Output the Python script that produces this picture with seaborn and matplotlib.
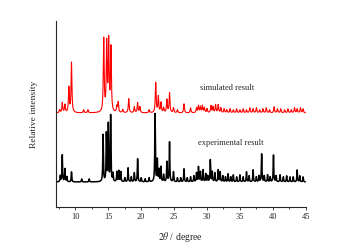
import seaborn as sns
import matplotlib.pyplot as plt
import numpy as np
import pandas as pd
from matplotlib.ticker import MultipleLocator

# peak positions (2theta) and heights
sim_pos = [7.6, 8.0, 8.4, 9.0, 9.4, 11.25, 11.9, 14.3, 14.75, 15.05, 15.4, 16.3, 16.5, 17.2,
           18.1, 18.95, 19.45, 19.8, 21.2, 22.2, 22.6, 23.0, 23.4, 23.9, 24.3, 24.9, 25.5,
           26.5, 27.5, 28.4, 28.7, 29.0, 29.3, 29.6, 30.0, 30.6, 30.9, 31.3, 31.7, 32.1,
           32.6, 33.0, 33.5, 34.0, 34.5, 35.0, 35.5, 36.0, 36.5, 37.0, 37.5, 38.0, 38.5,
           39.0, 39.5, 40.2, 40.7, 41.2, 41.8, 42.3, 42.8, 43.3, 43.7, 44.2, 44.6]
sim_h = [3, 10, 8, 25, 50, 3, 3, 73, 68, 70, 64, 6, 10, 3,
         14, 6, 10, 6, 3, 30, 16, 10, 5, 13, 20, 5, 3,
         9, 5, 5, 7, 6, 7, 5, 4, 7, 6, 8, 8, 5,
         4, 3, 4, 3, 4, 3, 4, 3, 5, 4, 5, 3, 4,
         5, 3, 6, 4, 4, 3, 4, 3, 5, 4, 5, 4]

exp_pos = [7.7, 8.0, 8.4, 8.7, 9.4, 10.95, 12.1, 14.2, 14.7, 15.0, 15.35, 15.7, 16.3, 16.6,
           16.9, 17.5, 18.0, 18.5, 18.95, 19.45, 20.0, 20.6, 21.2, 22.1, 22.45, 22.7, 23.0,
           23.4, 23.9, 24.3, 24.9, 25.5, 26.0, 26.5, 27.0, 27.5, 28.0, 28.4, 28.7, 29.0,
           29.4, 29.8, 30.1, 30.5, 30.8, 31.2, 31.7, 32.0, 32.4, 32.8, 33.2, 33.6, 34.0,
           34.5, 35.0, 35.5, 36.0, 36.4, 37.0, 37.5, 37.9, 38.3, 38.7, 39.2, 39.6, 40.1,
           40.5, 41.1, 41.6, 42.1, 42.6, 43.1, 43.7, 44.1, 44.6]
exp_h = [6, 27, 13, 5, 10, 3, 3, 47, 48, 57, 66, 8, 10, 11,
         10, 4, 14, 5, 9, 23, 4, 3, 4, 68, 22, 12, 15,
         7, 20, 40, 10, 4, 4, 13, 4, 5, 6, 9, 15, 10,
         12, 8, 6, 22, 10, 9, 12, 10, 6, 5, 8, 5, 7,
         5, 7, 5, 10, 6, 12, 5, 6, 28, 6, 7, 5, 27,
         6, 7, 5, 6, 5, 5, 12, 6, 5]

sim_offset = 69
tt = np.linspace(7.25, 44.95, 4000)


def profile(pos, h, w):
    y = np.zeros_like(tt)
    for p, a in zip(pos, h):
        y += a * w**2 / ((tt - p)**2 + w**2)
    return y


df = pd.DataFrame({
    "tt": tt,
    "sim": profile(sim_pos, sim_h, 0.075) + sim_offset,
    "exp": profile(exp_pos, exp_h, 0.05),
})

sns.set_style("ticks")
plt.rcParams['font.family'] = ['Liberation Serif', 'DejaVu Serif']
plt.rcParams['mathtext.fontset'] = 'stix'

fig = plt.figure(figsize=(3.47, 2.49), dpi=100)
ax = fig.add_axes([0.1605, 0.1687, 0.7205, 0.747])

sns.lineplot(data=df, x="tt", y="sim", color="red", lw=0.8, ax=ax)
sns.lineplot(data=df, x="tt", y="exp", color="black", lw=1.1, ax=ax)

ax.set_xlim(7, 45)
ax.set_ylim(-25, 161)
ax.xaxis.set_minor_locator(MultipleLocator(2.5))
ax.set_xticks([10, 15, 20, 25, 30, 35, 40, 45])
ax.tick_params(axis='x', which='major', length=2.5, width=0.6, labelsize=6, pad=2)
ax.tick_params(axis='x', which='minor', length=1.5, width=0.6)
ax.set_yticks([])
for s in ['left', 'bottom']:
    ax.spines[s].set_linewidth(0.8)
sns.despine(ax=ax)

ax.text(28.9, 92, "simulated result", fontsize=6)
ax.text(28.6, 37, "experimental result", fontsize=6)

ax.set_xlabel(r"$\mathit{2\theta}$ / degree", fontsize=7, labelpad=6)
ax.set_ylabel("Relative intensity", fontsize=6.8, labelpad=13)

fig.savefig("out.png", dpi=100)
